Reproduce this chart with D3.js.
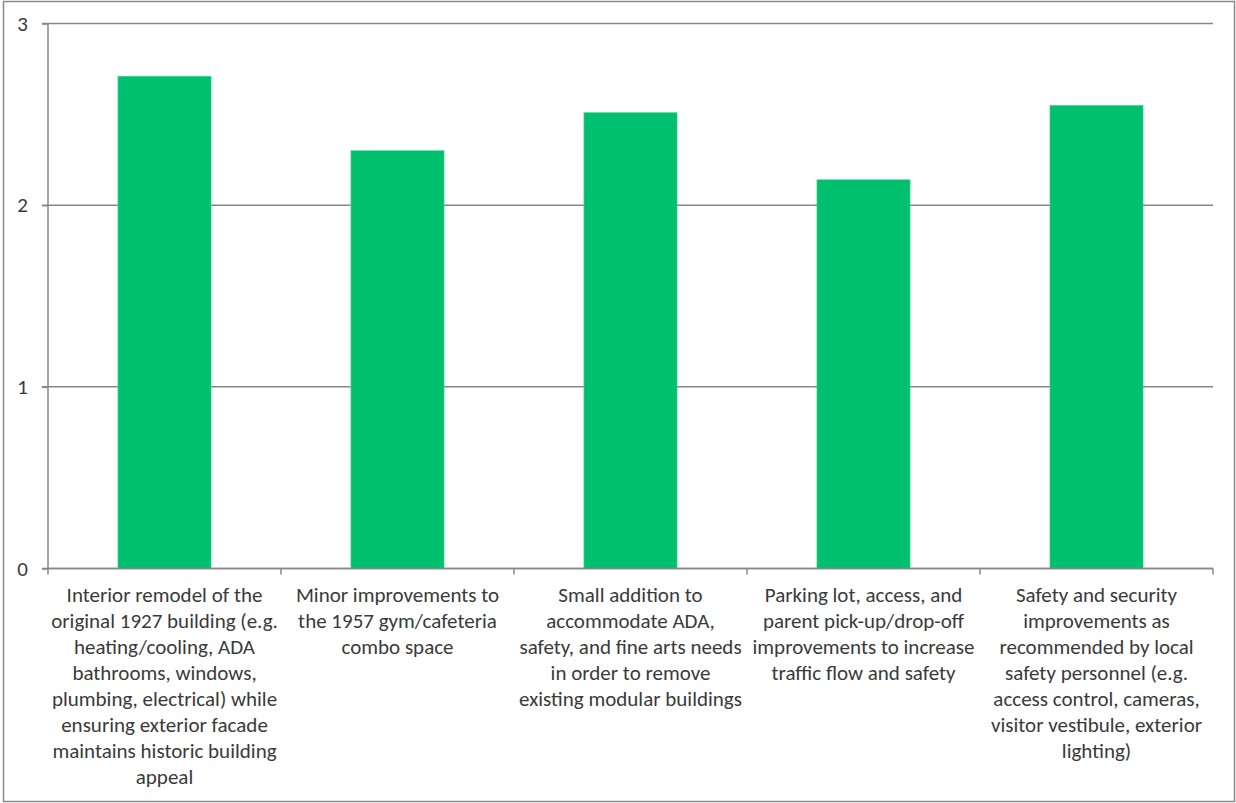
<!DOCTYPE html>
<html><head><meta charset="utf-8">
<script src="https://cdn.jsdelivr.net/npm/d3@7"></script>
<style>body{margin:0;background:#fff;}svg{display:block;}</style>
</head><body>
<script>
const categories = [
  "Interior remodel of the original 1927 building (e.g. heating/cooling, ADA bathrooms, windows, plumbing, electrical) while ensuring exterior facade maintains historic building appeal",
  "Minor improvements to the 1957 gym/cafeteria combo space",
  "Small addition to accommodate ADA, safety, and fine arts needs in order to remove existing modular buildings",
  "Parking lot, access, and parent pick-up/drop-off improvements to increase traffic flow and safety",
  "Safety and security improvements as recommended by local safety personnel (e.g. access control, cameras, visitor vestibule, exterior lighting)"
];
const labelLines = [
  ["Interior remodel of the","original 1927 building (e.g.","heating/cooling, ADA","bathrooms, windows,","plumbing, electrical) while","ensuring exterior facade","maintains historic building","appeal"],
  ["Minor improvements to","the 1957 gym/cafeteria","combo space"],
  ["Small addition to","accommodate ADA,","safety, and fine arts needs","in order to remove","existing modular buildings"],
  ["Parking lot, access, and","parent pick-up/drop-off","improvements to increase","traffic flow and safety"],
  ["Safety and security","improvements as","recommended by local","safety personnel (e.g.","access control, cameras,","visitor vestibule, exterior","lighting)"]
];
const values = [2.71, 2.30, 2.51, 2.14, 2.55];
const yTicks = [0, 1, 2, 3];

const W = 1236, H = 803;
const mLeft = 48, mRight = 1213, mTop = 23.5, mBottom = 568.5;
const font = "Carlito, Calibri, 'Liberation Sans Narrow', Lato, sans-serif";
const textColor = "#3a3a3a", gridColor = "#878787";

const svg = d3.select("body").append("svg").attr("width", W).attr("height", H);
svg.append("rect").attr("x",3.5).attr("y",1.5).attr("width",W-5).attr("height",H-3)
  .attr("fill","#fff").attr("stroke","#8a8a8a").attr("stroke-width",1.5);

const x = d3.scaleBand().domain(categories).range([mLeft, mRight]).padding(0);
const y = d3.scaleLinear().domain([0, 3]).range([mBottom, mTop]);

// gridlines
svg.append("g").selectAll("line").data(yTicks).join("line")
  .attr("x1", mLeft-6).attr("x2", mRight).attr("y1", d=>y(d)).attr("y2", d=>y(d))
  .attr("stroke", gridColor).attr("stroke-width", 1.5);

// y axis
const yAxis = svg.append("g").attr("transform",`translate(${mLeft},0)`)
  .call(d3.axisLeft(y).tickValues(yTicks).tickFormat(d3.format("d")).tickSize(6).tickPadding(14));
yAxis.select(".domain").attr("stroke", gridColor).attr("stroke-width",1.5).attr("d",`M0,${mTop}V${mBottom}`);
yAxis.selectAll(".tick line").attr("stroke", gridColor).attr("stroke-width",1.5);
yAxis.selectAll(".tick text").attr("font-family", font).attr("font-size", 21).attr("fill", textColor);

// bars
const bw = x.bandwidth()*0.4;
svg.append("g").selectAll("rect").data(values).join("rect")
  .attr("x", (d,i)=>x(categories[i]) + (x.bandwidth()-bw)/2)
  .attr("y", d=>y(d)).attr("width", bw).attr("height", d=>y(0)-y(d))
  .attr("fill", "#00bf6f").attr("stroke","#5fd9a3").attr("stroke-width",0.6);

// x axis
const xAxisG = svg.append("g").attr("transform",`translate(0,${mBottom})`);
xAxisG.append("line").attr("x1",mLeft).attr("x2",mRight).attr("y1",0).attr("y2",0)
  .attr("stroke",gridColor).attr("stroke-width",1.5);
const boundaries = categories.map(c=>x(c)).concat([mRight]);
xAxisG.selectAll("line.tk").data(boundaries).join("line").attr("class","tk")
  .attr("x1",d=>d).attr("x2",d=>d).attr("y1",0).attr("y2",6)
  .attr("stroke",gridColor).attr("stroke-width",1.5);

const lab = svg.append("g").selectAll("text").data(categories).join("text")
  .attr("text-anchor","middle").attr("font-family", font).attr("font-size", 21).attr("fill", textColor)
  .attr("transform", d=>`translate(${x(d)+x.bandwidth()/2},0)`);
lab.each(function(d,i){
  d3.select(this).selectAll("tspan").data(labelLines[i]).join("tspan")
    .attr("x",0).attr("y",(t,j)=>602+j*26).text(t=>t);
});
</script>
</body></html>
